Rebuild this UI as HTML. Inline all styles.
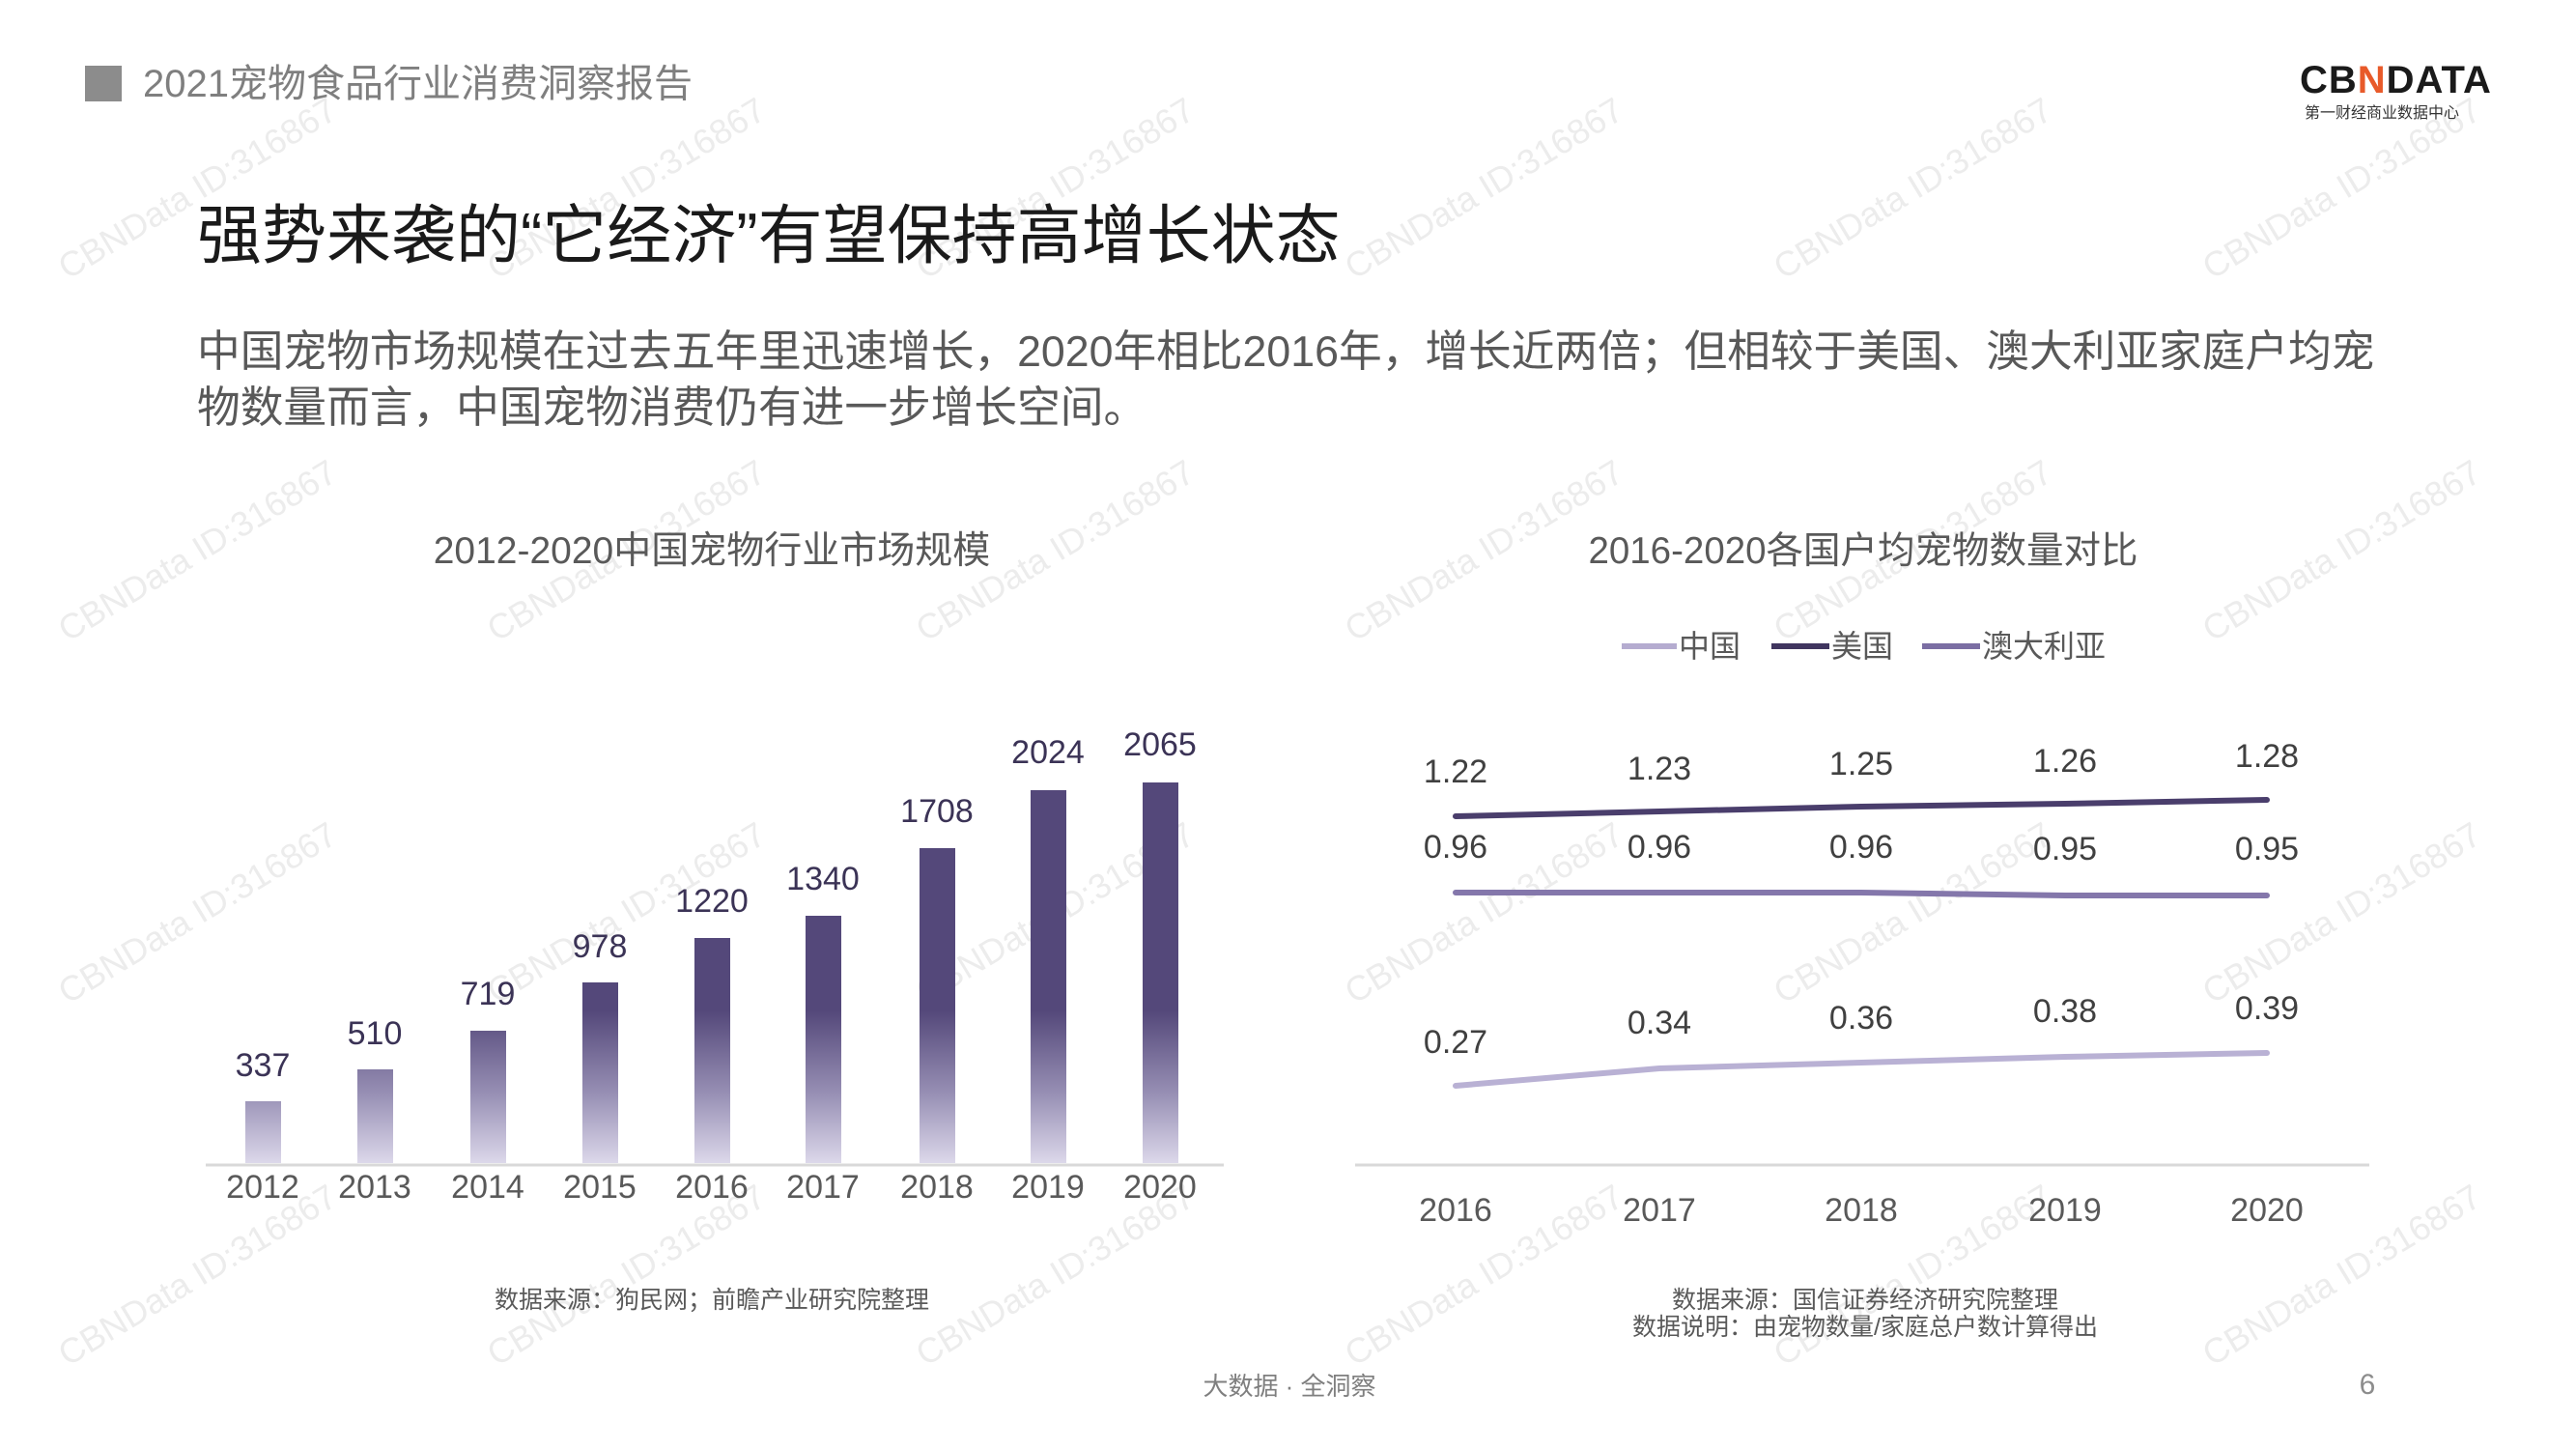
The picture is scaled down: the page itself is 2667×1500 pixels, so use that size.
<!DOCTYPE html>
<html><head><meta charset="utf-8"><style>
html,body{margin:0;padding:0;background:#fff;}
svg{display:block;}
text{font-family:"Liberation Sans","Noto Sans CJK SC",sans-serif;}
</style></head><body>
<svg width="2667" height="1500" viewBox="0 0 2667 1500" xmlns="http://www.w3.org/2000/svg">
<defs>
<linearGradient id="bgs" x1="0" y1="1204" x2="0" y2="810" gradientUnits="userSpaceOnUse">
<stop offset="0" stop-color="#dcd8ea"/>
<stop offset="0.18" stop-color="#9890b5"/>
<stop offset="0.4" stop-color="#54487a"/>
<stop offset="1" stop-color="#54487a"/>
</linearGradient>
</defs>
<g fill="#ececec" font-size="36">
<g id="wm">
<text transform="translate(70,290) rotate(-31)">CBNData ID:316867</text>
<text transform="translate(514,290) rotate(-31)">CBNData ID:316867</text>
<text transform="translate(958,290) rotate(-31)">CBNData ID:316867</text>
<text transform="translate(1402,290) rotate(-31)">CBNData ID:316867</text>
<text transform="translate(1846,290) rotate(-31)">CBNData ID:316867</text>
<text transform="translate(2290,290) rotate(-31)">CBNData ID:316867</text>
</g>
<use href="#wm" y="375"/><use href="#wm" y="750"/><use href="#wm" y="1125"/>
</g>
<rect x="88" y="68" width="38" height="37" fill="#8c8c8c"/>
<text x="148" y="100" font-size="40" fill="#7f7f7f">2021宠物食品行业消费洞察报告</text>
<text x="2381" y="96" font-size="40" font-weight="bold" fill="#1a1a1a" letter-spacing="1">CB<tspan fill="#e85a2a">N</tspan>DATA</text>
<text x="2386" y="122" font-size="16" fill="#333">第一财经商业数据中心</text>
<text x="204" y="267" font-size="67" fill="#1a1a1a">强势来袭的“它经济”有望保持高增长状态</text>
<text x="204" y="379" font-size="44.7" fill="#595959">中国宠物市场规模在过去五年里迅速增长，2020年相比2016年，增长近两倍；但相较于美国、澳大利亚家庭户均宠</text>
<text x="204" y="437" font-size="44.7" fill="#595959">物数量而言，中国宠物消费仍有进一步增长空间。</text>
<text x="737" y="583" font-size="39" fill="#595959" text-anchor="middle">2012-2020中国宠物行业市场规模</text>
<g fill="url(#bgs)">
<rect x="254" y="1140" width="37" height="64"/>
<rect x="370" y="1107" width="37" height="97"/>
<rect x="487" y="1067" width="37" height="137"/>
<rect x="603" y="1017" width="37" height="187"/>
<rect x="719" y="971" width="37" height="233"/>
<rect x="834" y="948" width="37" height="256"/>
<rect x="952" y="878" width="37" height="326"/>
<rect x="1067" y="818" width="37" height="386"/>
<rect x="1183" y="810" width="37" height="394"/>
</g>
<line x1="213" y1="1206" x2="1267" y2="1206" stroke="#d9d9d9" stroke-width="3"/>
<g font-size="34" fill="#3b3356" text-anchor="middle">
<text x="272" y="1114">337</text><text x="388" y="1081">510</text><text x="505" y="1040">719</text>
<text x="621" y="991">978</text><text x="737" y="944">1220</text><text x="852" y="921">1340</text>
<text x="970" y="851">1708</text><text x="1085" y="790">2024</text><text x="1201" y="782">2065</text>
</g>
<g font-size="34" fill="#595959" text-anchor="middle">
<text x="272" y="1240">2012</text><text x="388" y="1240">2013</text><text x="505" y="1240">2014</text>
<text x="621" y="1240">2015</text><text x="737" y="1240">2016</text><text x="852" y="1240">2017</text>
<text x="970" y="1240">2018</text><text x="1085" y="1240">2019</text><text x="1201" y="1240">2020</text>
</g>
<text x="737" y="1354" font-size="25" fill="#595959" text-anchor="middle">数据来源：狗民网；前瞻产业研究院整理</text>
<text x="1929" y="583" font-size="38.5" fill="#595959" text-anchor="middle">2016-2020各国户均宠物数量对比</text>
<g font-size="32" fill="#595959">
<line x1="1679" y1="669" x2="1736" y2="669" stroke="#b5acd0" stroke-width="6"/>
<text x="1738" y="680">中国</text>
<line x1="1834" y1="669" x2="1894" y2="669" stroke="#40355f" stroke-width="6"/>
<text x="1896" y="680">美国</text>
<line x1="1990" y1="669" x2="2050" y2="669" stroke="#7b6ea3" stroke-width="6"/>
<text x="2052" y="680">澳大利亚</text>
</g>
<g fill="none" stroke-width="6" stroke-linecap="round">
<polyline points="1507,845 1718,840 1927,835 2138,832 2347,828" stroke="#4a3e6c"/>
<polyline points="1507,924 1718,924 1927,924 2138,927 2347,927" stroke="#8477ab"/>
<polyline points="1507,1124 1718,1106 1927,1100 2138,1094 2347,1090" stroke="#b9b1d4"/>
</g>
<g font-size="34" fill="#404040" text-anchor="middle">
<text x="1507" y="810">1.22</text><text x="1718" y="807">1.23</text><text x="1927" y="802">1.25</text><text x="2138" y="799">1.26</text><text x="2347" y="794">1.28</text>
<text x="1507" y="888">0.96</text><text x="1718" y="888">0.96</text><text x="1927" y="888">0.96</text><text x="2138" y="890">0.95</text><text x="2347" y="890">0.95</text>
<text x="1507" y="1090">0.27</text><text x="1718" y="1070">0.34</text><text x="1927" y="1065">0.36</text><text x="2138" y="1058">0.38</text><text x="2347" y="1055">0.39</text>
</g>
<line x1="1403" y1="1206" x2="2453" y2="1206" stroke="#d9d9d9" stroke-width="3"/>
<g font-size="34" fill="#595959" text-anchor="middle">
<text x="1507" y="1264">2016</text><text x="1718" y="1264">2017</text><text x="1927" y="1264">2018</text><text x="2138" y="1264">2019</text><text x="2347" y="1264">2020</text>
</g>
<text x="1931" y="1354" font-size="25" fill="#595959" text-anchor="middle">数据来源：国信证券经济研究院整理</text>
<text x="1931" y="1382" font-size="25" fill="#595959" text-anchor="middle">数据说明：由宠物数量/家庭总户数计算得出</text>
<text x="1335" y="1444" font-size="26" fill="#7f7f7f" text-anchor="middle">大数据 · 全洞察</text>
<text x="2451" y="1443" font-size="30" fill="#8c8c8c" text-anchor="middle">6</text>
</svg>
</body></html>
